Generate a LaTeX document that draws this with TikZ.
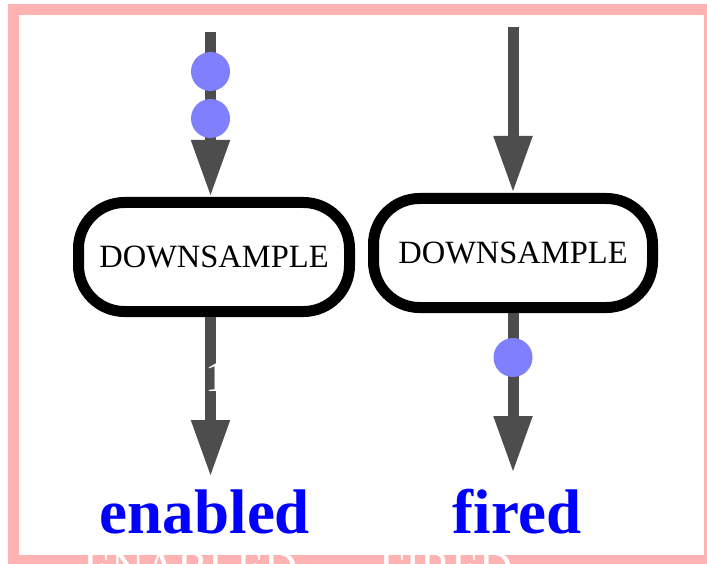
\documentclass[tikz,border=0pt]{standalone}
\usepackage{fontspec}
\setmainfont{Liberation Serif}
\usetikzlibrary{arrows.meta}
\definecolor{framepink}{RGB}{255,178,178}
\definecolor{wire}{RGB}{77,77,77}
\definecolor{token}{RGB}{128,128,255}
\definecolor{labelblue}{RGB}{0,0,255}

\begin{document}
\begin{tikzpicture}[x=1pt,y=-1pt,
  actor/.style={draw=black, line width=11pt, rounded corners=46pt, fill=white,
    minimum height=109pt, inner sep=0pt, font=\fontsize{32.5}{32.5}\selectfont},
  flow/.style={draw=wire, line width=11pt, -{Triangle[length=57pt,width=36pt]}},
  tokendot/.style={circle, fill=token, minimum size=39pt, inner sep=0pt},
  state/.style={text=labelblue, anchor=base, font=\fontsize{63}{63}\selectfont\bfseries},
  ghost/.style={text=white, anchor=base, font=\fontsize{46}{46}\selectfont}]

  \useasboundingbox (0,0) rectangle (707,564);
  \clip (0,0) rectangle (707,564);
  \fill[white] (0,0) rectangle (707,564);

  % outer frame
  \draw[framepink, line width=11pt] (13.5,9.5) rectangle (709.8,560.5);

  % the two actors
  \node[actor, minimum width=271pt] (lbox) at (214,257) {DOWNSAMPLE};
  \node[actor, minimum width=279pt] (rbox) at (513,253) {DOWNSAMPLE};

  % free ends of the channels
  \coordinate (lt) at (210.5,32);
  \coordinate (lend) at (210.5,477);
  \coordinate (rt) at (513,27);
  \coordinate (rend) at (513,473);

  % channels
  \draw[flow] (lt) -- (lt |- lbox.north);
  \draw[flow] (lend |- lbox.south) -- (lend);
  \draw[flow] (rt) -- (rt |- rbox.north);
  \draw[flow] (rend |- rbox.south) -- (rend);

  % tokens on the channels
  \node[tokendot] (tokA) at (210.5,71.5) {};
  \node[tokendot] (tokB) at (210.5,118.5) {};
  \node[tokendot] (tokC) at (513,357.5) {};

  \node[text=white, anchor=base, font=\fontsize{43}{43}\selectfont] (rate) at (216,391) {1};

  % state labels
  \node[state] (enab) at (205,533) {enabled};
  \node[state] (fire) at (517,533) {fired};

  \node[ghost] (enabG) at (190.5,583) {ENABLED};
  \node[ghost] (fireG) at (446,583) {FIRED};
\end{tikzpicture}
\end{document}
